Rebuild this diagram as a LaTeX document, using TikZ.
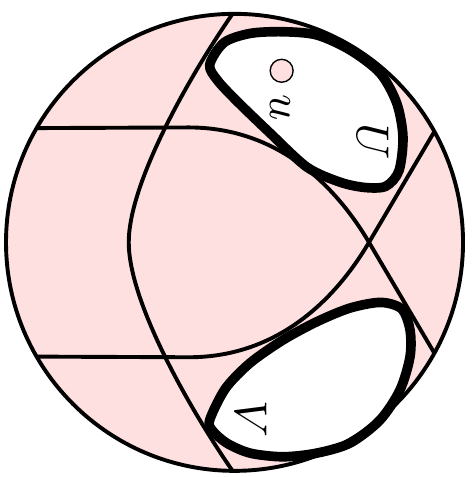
\documentclass[tikz,border=0pt]{standalone}
\usepackage{amsmath}
\usetikzlibrary{calc}

\begin{document}
\begin{tikzpicture}[line join=round,
  geod/.style={line width=0.85pt},
  region/.style={line width=2.1pt, fill=white},
  lbl/.style={rotate=-90, inner sep=0pt}]
  \useasboundingbox (-1.796,-1.797) rectangle (1.811,1.856);
  % disk
  \fill[red!12] (0,0) circle (1.75);
  % curves
  \draw[geod] (150:1.75) -- (-0.35,0.88) .. controls (0.3,0.88) and (0.75,0.474) .. (1.03,0) -- (-29:1.75);
  \draw[geod] (210:1.75) -- (-0.35,-0.88) .. controls (0.3,-0.88) and (0.75,-0.474) .. (1.03,0) -- (29:1.75);
  \draw[geod] (90.5:1.75) .. controls (-0.356,1.257) and (-0.81,0.45) .. (-0.81,0)
    .. controls (-0.81,-0.45) and (-0.356,-1.257) .. (269.5:1.75);
  % regions U and V
  \draw[region] plot[smooth cycle] coordinates {(-0.19,1.36) (-0.08,1.53) (0.12,1.60) (0.37,1.613)
    (0.63,1.588) (0.885,1.473) (1.114,1.297) (1.242,1.067) (1.29,0.809) (1.26,0.55) (1.16,0.43)
    (1.0,0.42) (0.808,0.461) (0.555,0.576) (0.272,0.837) (0.02,1.08) (-0.13,1.24)};
  \draw[region] plot[smooth cycle] coordinates {(-0.19,-1.36) (-0.07,-1.12) (0.119,-0.924) (0.371,-0.748)
    (0.63,-0.608) (0.885,-0.503) (1.12,-0.46) (1.28,-0.51) (1.344,-0.671) (1.344,-0.876) (1.267,-1.131)
    (1.114,-1.361) (0.885,-1.537) (0.63,-1.614) (0.371,-1.642) (0.119,-1.614) (-0.06,-1.537) (-0.17,-1.44)};
  % boundary
  \draw[geod] (0,0) circle (1.75);
  % point u
  \node[circle, draw, line width=0.3pt, fill=red!12, minimum size=0.176cm, inner sep=0pt] (u) at (0.361,1.314) {};
  \node[lbl] (labu) at (0.348,1.033) {$u$};
  \node[lbl] (labU) at (1.065,0.768) {$U$};
  \node[lbl] (labV) at (0.130,-1.353) {$V$};
\end{tikzpicture}
\end{document}
